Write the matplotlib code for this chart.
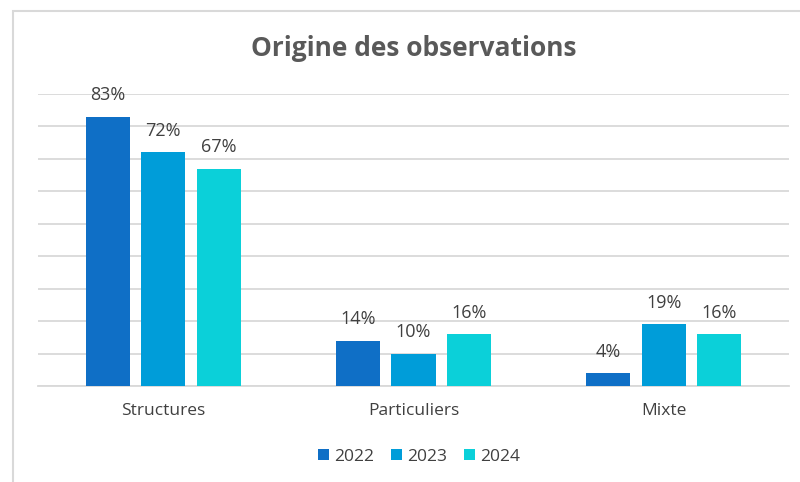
import matplotlib.pyplot as plt
import numpy as np
from matplotlib.patches import Rectangle

plt.rcParams['font.family'] = ['Open Sans', 'DejaVu Sans']

categories = ['Structures', 'Particuliers', 'Mixte']
years = ['2022', '2023', '2024']
v2022 = [83, 14, 4]
v2023 = [72, 10, 19]
v2024 = [67, 16, 16]
colors = ['#0F6FC6', '#009DD9', '#0BD0D9']

fig = plt.figure(figsize=(8, 4.82), dpi=100)
# chart frame (right and bottom edges fall outside the picture)
fig.patches.append(Rectangle((12.5 / 800, -0.05), 1.0, 1 - 11 / 482 + 0.05,
                             transform=fig.transFigure, fill=False,
                             edgecolor='#D9D9D9', linewidth=1.5))

ax = fig.add_axes([38 / 800, 96 / 482, 751 / 800, 292 / 482])
x = np.arange(len(categories))
width = 0.176
step = 0.222
for i, (vals, yr) in enumerate(zip([v2022, v2023, v2024], years)):
    pos = x + (i - 1) * step
    bars = ax.bar(pos, vals, width, color=colors[i], label=yr, zorder=3)
    for b, v in zip(bars, vals):
        ax.text(b.get_x() + b.get_width() / 2, v + 6.6, f'{v}%', ha='center',
                va='center', fontsize=13, color='#404040')

ax.set_xlim(-0.5, 2.5)
ax.set_ylim(0, 90)
ax.set_yticks(np.arange(0, 91, 10))
ax.yaxis.grid(True, color='#D9D9D9', linewidth=1.3, zorder=0)
ax.tick_params(axis='y', left=False, labelleft=False)
ax.tick_params(axis='x', bottom=False, pad=9)
ax.set_xticks(x)
ax.set_xticklabels(categories, fontsize=12.5, color='#404040')
for s in ['top', 'right', 'left']:
    ax.spines[s].set_visible(False)
ax.spines['bottom'].set_color('#D9D9D9')
ax.spines['bottom'].set_linewidth(1.3)

fig.text(414 / 800, 1 - 48 / 482, 'Origine des observations', ha='center', va='center',
         fontsize=19, fontweight='bold', color='#595959')

leg = fig.legend(loc='center', bbox_to_anchor=(0.524, 1 - 457 / 482), ncol=3,
                 frameon=False, fontsize=12.5, handlelength=0.6, handleheight=0.6,
                 handletextpad=0.3, columnspacing=1.0)
for t in leg.get_texts():
    t.set_color('#404040')

fig.savefig('out.png', dpi=100)
